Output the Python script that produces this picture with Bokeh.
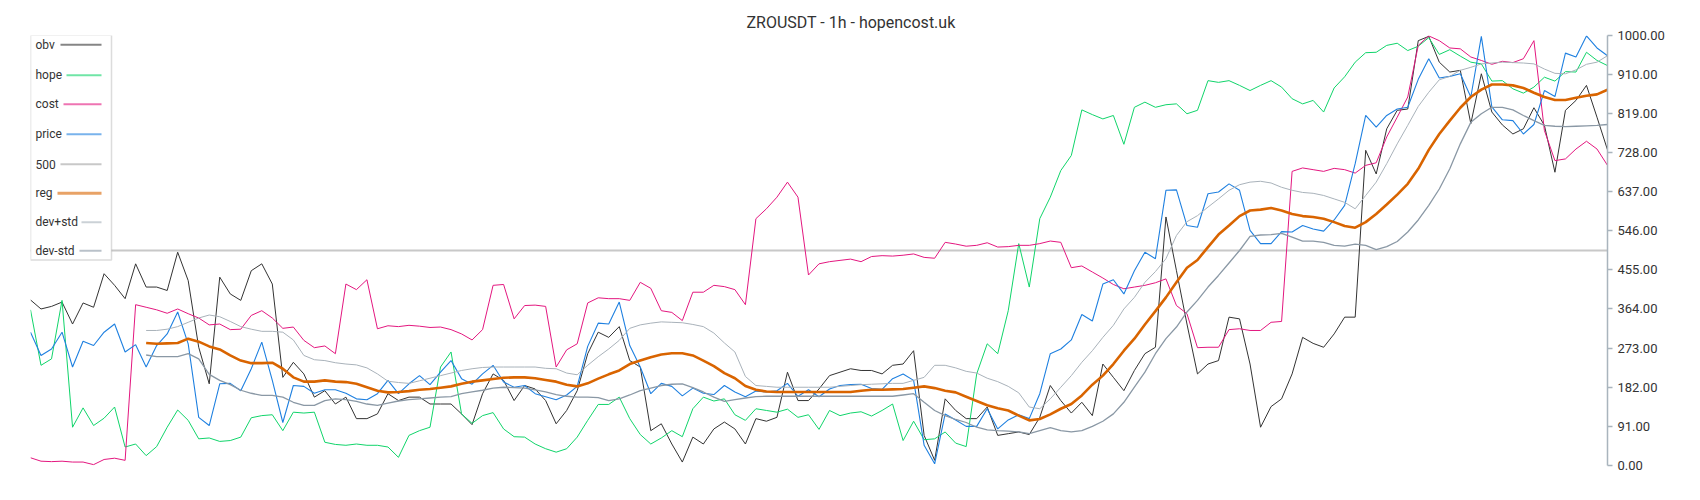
from bokeh.plotting import figure
from bokeh.models import Range1d, FixedTicker, NumeralTickFormatter, Span, Label, BoxAnnotation
from bokeh.embed import file_html
from bokeh.resources import INLINE

# ---------------- data ----------------
N = 151
idx = list(range(N))
REG_START = 11  # reg / dev bands start here

obv = [385, 364, 370, 380, 329, 378, 368, 446, 419, 388,
       469, 415, 415, 407, 496, 430, 275, 190, 438, 399,
       384, 453, 469, 422, 205, 240, 213, 159, 174, 143,
       159, 109, 109, 120, 167, 151, 159, 159, 143, 143,
       143, 120, 95, 167, 213, 198, 151, 186, 178, 151,
       97, 128, 174, 260, 310, 298, 323, 244, 229, 81,
       97, 50, 8, 66, 50, 85, 101, 85, 50, 109,
       103, 112, 217, 151, 151, 178, 209, 217, 225, 221,
       221, 213, 233, 236, 267, 70, 12, 155, 128, 109,
       109, 136, 70, 74, 78, 72, 112, 186, 151, 122,
       147, 116, 236, 205, 174, 221, 260, 275, 578, 453,
       329, 213, 236, 244, 345, 341, 236, 89, 137, 155,
       213, 298, 284, 275, 306, 345, 345, 733, 678, 783,
       826, 829, 988, 998, 938, 915, 919, 795, 911, 822,
       792, 771, 783, 832, 791, 682, 826, 849, 884, 810,
       734]

hope = [362, 233, 248, 384, 89, 134, 93, 110, 136, 43,
        50, 23, 44, 89, 129, 105, 62, 64, 56, 58,
        66, 111, 116, 118, 81, 124, 122, 124, 54, 49,
        47, 50, 47, 47, 43, 19, 70, 81, 89, 229,
        264, 120, 98, 116, 123, 85, 67, 66, 50, 39,
        31, 39, 66, 105, 142, 142, 159, 109, 72, 50,
        64, 81, 67, 132, 159, 150, 155, 118, 105, 132,
        128, 124, 131, 112, 118, 84, 128, 116, 122, 125,
        115, 128, 143, 58, 103, 60, 62, 78, 52, 44,
        213, 283, 260, 360, 516, 415, 574, 624, 686, 721,
        827, 816, 806, 814, 747, 833, 845, 833, 839, 841,
        818, 826, 895, 891, 895, 884, 872, 884, 895, 880,
        853, 841, 849, 822, 878, 904, 938, 960, 961, 977,
        982, 965, 975, 995, 956, 967, 952, 938, 934, 894,
        895, 876, 866, 880, 903, 894, 916, 915, 961, 942,
        930]

cost = [18, 10, 9, 10, 8, 8, 2, 14, 17, 12,
        374, 368, 362, 354, 364, 353, 343, 327, 329, 316,
        317, 349, 360, 343, 319, 322, 291, 274, 278, 260,
        422, 409, 432, 318, 325, 323, 326, 324, 321, 322,
        316, 306, 292, 316, 419, 421, 341, 372, 373, 370,
        229, 269, 283, 378, 390, 388, 388, 384, 426, 412,
        360, 356, 337, 403, 403, 419, 416, 409, 374, 574,
        597, 624, 659, 624, 443, 469, 474, 477, 480, 474,
        486, 488, 487, 489, 492, 484, 482, 519, 515, 510,
        512, 518, 508, 509, 512, 512, 516, 522, 519, 460,
        464, 450, 436, 421, 411, 415, 419, 425, 434, 372,
        353, 274, 275, 275, 316, 318, 314, 314, 333, 335,
        684, 692, 688, 684, 691, 688, 680, 698, 704, 764,
        810, 857, 977, 999, 988, 971, 969, 950, 942, 933,
        940, 937, 946, 988, 779, 709, 713, 736, 754, 736,
        698]

price = [310, 256, 271, 310, 229, 289, 279, 310, 329, 264,
         281, 229, 279, 306, 357, 283, 112, 93, 190, 191,
         174, 225, 287, 198, 100, 186, 184, 168, 176, 176,
         168, 155, 153, 167, 198, 167, 190, 209, 188, 217,
         244, 202, 189, 213, 233, 194, 182, 186, 167, 160,
         153, 164, 184, 277, 331, 329, 380, 279, 229, 167,
         191, 184, 162, 180, 168, 165, 186, 171, 160, 173,
         171, 174, 191, 161, 176, 160, 178, 186, 188, 189,
         179, 177, 202, 213, 198, 47, 4, 120, 106, 91,
         91, 132, 85, 106, 118, 109, 167, 260, 271, 292,
         351, 336, 422, 432, 399, 453, 496, 481, 640, 641,
         558, 554, 632, 636, 655, 640, 547, 516, 516, 544,
         543, 558, 550, 545, 571, 605, 702, 814, 787, 814,
         829, 833, 898, 946, 901, 905, 911, 857, 998, 834,
         804, 802, 771, 793, 872, 858, 959, 950, 999, 971,
         953]

LEVEL_500 = 500

reg = [285, 283, 284, 285, 295, 288, 277, 270, 256, 244,
       238, 238, 239, 225, 205, 195, 195, 198, 195, 194,
       190, 182, 174, 170, 171, 173, 176, 178, 181, 184,
       190, 195, 198, 201, 204, 205, 205, 203, 199, 195,
       188, 184, 191, 202, 212, 221, 236, 244, 252, 258,
       261, 261, 256, 244, 231, 215, 203, 185, 176, 172,
       171, 171, 171, 171, 171, 171, 171, 171, 174, 176,
       176, 177, 178, 181, 184, 180, 174, 170, 160, 150,
       140, 133, 128, 116, 105, 108, 119, 132, 143, 163,
       188, 209, 236, 267, 295, 328, 359, 391, 426, 460,
       478, 508, 537, 558, 580, 593, 595, 599, 593, 585,
       580, 578, 574, 566, 557, 553, 566, 585, 607, 630,
       655, 690, 734, 771, 802, 832, 857, 874, 886, 886,
       884, 878, 867, 857, 850, 850, 855, 860, 863, 874]

dev_plus_std = [314, 314, 317, 323, 333, 343, 350, 346, 335, 323,
                317, 312, 312, 310, 292, 256, 246, 244, 239, 236,
                234, 227, 213, 196, 193, 191, 197, 203, 209, 215,
                221, 225, 228, 229, 229, 229, 229, 229, 226, 225,
                215, 211, 233, 253, 271, 291, 319, 327, 331, 334,
                333, 332, 328, 323, 308, 285, 264, 207, 186, 184,
                182, 182, 182, 182, 182, 182, 184, 186, 188, 189,
                190, 191, 191, 198, 205, 233, 233, 227, 219, 215,
                203, 195, 184, 169, 136, 132, 155, 182, 209, 240,
                267, 298, 326, 364, 391, 426, 451, 481, 535, 567,
                581, 601, 620, 640, 653, 659, 661, 657, 647, 640,
                635, 633, 628, 620, 612, 597, 628, 659, 702, 748,
                791, 835, 868, 897, 905, 919, 926, 934, 936, 938,
                937, 936, 934, 922, 912, 911, 920, 933, 938, 953]

dev_minus_std = [257, 253, 253, 253, 260, 248, 212, 198, 188, 175,
                 168, 163, 163, 159, 147, 140, 140, 151, 155, 153,
                 149, 143, 140, 145, 150, 153, 155, 157, 159, 160,
                 167, 171, 175, 180, 182, 181, 180, 176, 171, 165,
                 161, 159, 159, 158, 151, 155, 164, 174, 180, 186,
                 189, 190, 181, 171, 159, 149, 153, 157, 160, 161,
                 161, 161, 161, 161, 161, 161, 161, 161, 161, 161,
                 161, 161, 164, 167, 147, 128, 116, 107, 100, 89,
                 83, 81, 80, 78, 74, 81, 88, 81, 78, 81,
                 91, 103, 120, 147, 182, 217, 260, 295, 322, 357,
                 384, 415, 442, 471, 500, 533, 536, 537, 540, 531,
                 522, 522, 519, 512, 510, 515, 512, 502, 509, 521,
                 543, 571, 605, 643, 690, 748, 798, 818, 833, 833,
                 827, 814, 802, 791, 789, 788, 789, 790, 791, 793]

TICKS = [0, 91, 182, 273, 364, 455, 546, 637, 728, 819, 910, 1000]

TITLE = "ZROUSDT - 1h - hopencost.uk"
NAMES = ["obv", "hope", "cost", "price", "500", "reg", "dev+std", "dev-std"]
COLORS = ["#333333", "#10d46a", "#e3177f", "#1f80e0", "#c8c8c8", "#d96400", "#a9b2ba", "#8a98a5"]
WIDTHS = [1, 1, 1, 1.1, 2, 2.6, 1, 1.3]

# ---------------- figure ----------------
FRAME_LEFT, FRAME_RIGHT, FRAME_TOP, FRAME_BOTTOM = 30, 1607, 35, 465
W, H = 1695, 495
p = figure(width=W, height=H, output_backend="svg", toolbar_location=None,
           x_axis_location=None, y_axis_location="right",
           x_range=Range1d(0, N - 1), y_range=Range1d(0, 1000),
           min_border_left=FRAME_LEFT, min_border_right=W - FRAME_RIGHT,
           min_border_top=FRAME_TOP, min_border_bottom=H - FRAME_BOTTOM)

p.grid.visible = False
p.outline_line_color = None
p.background_fill_color = "white"
p.border_fill_color = "white"

p.title.text = TITLE
p.title.align = "left"
p.title.offset = 716
p.title.standoff = 7
p.title.text_font = "Roboto"
p.title.text_font_size = "16px"
p.title.text_font_style = "normal"
p.title.text_color = "#333333"

ax = p.yaxis[0]
ax.ticker = FixedTicker(ticks=TICKS)
ax.formatter = NumeralTickFormatter(format="0.00")
ax.axis_line_color = "#a9b4bd"
ax.axis_line_width = 1.5
ax.major_tick_line_color = "#a9b4bd"
ax.major_tick_line_width = 1.5
ax.major_tick_out = 5
ax.major_tick_in = 0
ax.minor_tick_line_color = None
ax.major_label_text_font = "Roboto"
ax.major_label_text_font_size = "13px"
ax.major_label_text_color = "#333333"
ax.major_label_standoff = 5

# 500 level
p.add_layout(Span(location=LEVEL_500, dimension="width", line_color=COLORS[4],
                  line_width=WIDTHS[4], level="underlay"))

band_x = idx[REG_START:]
p.line(idx, obv, line_color=COLORS[0], line_width=WIDTHS[0])
p.line(idx, hope, line_color=COLORS[1], line_width=WIDTHS[1])
p.line(idx, cost, line_color=COLORS[2], line_width=WIDTHS[2])
p.line(idx, price, line_color=COLORS[3], line_width=WIDTHS[3])
p.line(band_x, reg, line_color=COLORS[5], line_width=WIDTHS[5])
p.line(band_x, dev_plus_std, line_color=COLORS[6], line_width=WIDTHS[6])
p.line(band_x, dev_minus_std, line_color=COLORS[7], line_width=WIDTHS[7])

# ---------------- legend (label left, line right); screen units measured from frame bottom-left ----------------
p.add_layout(BoxAnnotation(left=0, right=81, top=FRAME_BOTTOM - 34.5, bottom=FRAME_BOTTOM - 259.5,
                           left_units="screen", right_units="screen", top_units="screen", bottom_units="screen",
                           fill_color="white", fill_alpha=1.0, line_color="#8c8c8c", line_width=1.5,
                           level="annotation"))
row_y = [44.3, 74.7, 103.7, 133.7, 163.7, 192.7, 221.7, 250.3]
glyph_start = [30, 36, 33, 36, 30, 27, 51, 49]
for name, col, w, yy, gs in zip(NAMES, COLORS, WIDTHS, row_y, glyph_start):
    sy = FRAME_BOTTOM - yy
    p.add_layout(Label(x=5, y=sy, x_units="screen", y_units="screen", text=name,
                       text_font="Roboto", text_font_size="12px", text_color="#333333",
                       text_baseline="middle", text_align="left"))
    h = 1.5 if name == "reg" else 1.0
    p.add_layout(BoxAnnotation(left=gs, right=71, top=sy + h, bottom=sy - h,
                               left_units="screen", right_units="screen", top_units="screen", bottom_units="screen",
                               fill_color=col, fill_alpha=0.6 if name != "500" else 1.0, line_alpha=0))

open("out.html", "w").write(file_html(p, INLINE))
